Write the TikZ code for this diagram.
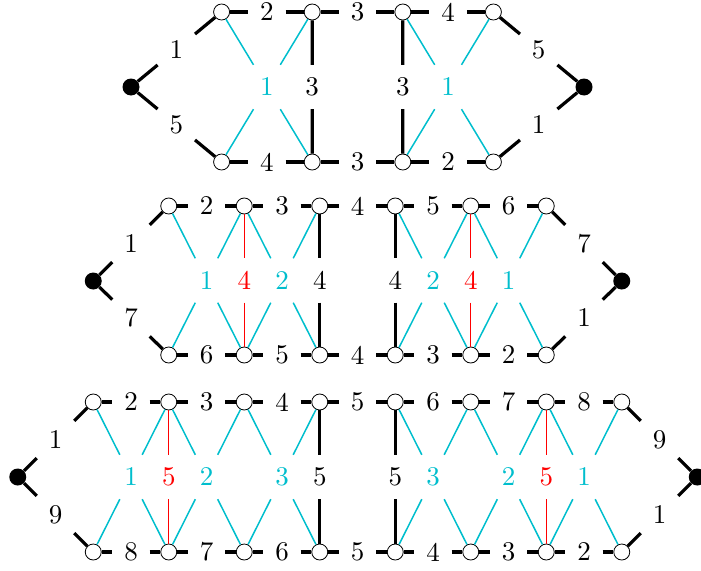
\documentclass[tikz,border=0pt]{standalone}
\usepackage{fontspec}
\setmainfont{lmroman10-regular}[Extension=.otf]
\usetikzlibrary{calc}
\definecolor{mycyan}{RGB}{0,190,205}
\tikzset{
  oc/.style={circle, draw, fill=white, minimum size=16pt, inner sep=0pt, line width=0.8pt},
  bd/.style={circle, fill=black, minimum size=17pt, inner sep=0pt},
  lab/.style={rectangle, minimum width=37pt, minimum height=44pt, inner sep=0pt, font=\fontsize{27}{32}\selectfont},
  clab/.style={lab, text=mycyan},
  rlab/.style={lab, text=red},
  bkline/.style={line width=3.2pt, black},
  cyline/.style={line width=1.5pt, mycyan},
  rdline/.style={line width=0.9pt, red},
}
\newcommand\crossX[6]{% row, a, b, name, text, style
  \node[#6] (#4) at ($(t#1-#2)!0.5!(b#1-#3)$) {#5};
  \draw[cyline] (t#1-#2) -- (#4) (#4) -- (b#1-#3) (t#1-#3) -- (#4) (#4) -- (b#1-#2);
}
\newcommand\vertX[6]{% row, a, name, text, labstyle, linestyle
  \node[#5] (#3) at ($(t#1-#2)!0.5!(b#1-#2)$) {#4};
  \draw[#6] (t#1-#2) -- (#3) (#3) -- (b#1-#2);
}
\begin{document}
\begin{tikzpicture}[x=1pt,y=-1pt]
\useasboundingbox (0,0) rectangle (701,570);
\def\C{357.5}
\def\U{75.5}
% ---------------- Row 1 ----------------
\foreach \i in {1,...,4}{
  \node[oc] (t1-\i) at ({\C+(\i-2.5)*1.2*\U},12) {};
  \node[oc] (b1-\i) at ({\C+(\i-2.5)*1.2*\U},162) {};
}
\node[bd] (l1) at ({\C-3*\U},87) {};
\node[bd] (r1) at ({\C+3*\U},87) {};
\foreach \i in {1,...,3}{
  \pgfmathtruncatemacro\j{\i+1}
  \pgfmathtruncatemacro\m{5-\i}
  \node[lab] (tl1-\i) at ($(t1-\i)!0.5!(t1-\j)$) {\j};
  \node[lab] (bl1-\i) at ($(b1-\i)!0.5!(b1-\j)$) {\m};
  \draw[bkline] (t1-\i) -- (tl1-\i) (tl1-\i) -- (t1-\j);
  \draw[bkline] (b1-\i) -- (bl1-\i) (bl1-\i) -- (b1-\j);
}
\node[lab] (dl1a) at ($(l1)!0.5!(t1-1)$) {1};
\node[lab] (dl1b) at ($(l1)!0.5!(b1-1)$) {5};
\node[lab] (dr1a) at ($(r1)!0.5!(t1-4)$) {5};
\node[lab] (dr1b) at ($(r1)!0.5!(b1-4)$) {1};
\draw[bkline] (l1) -- (dl1a) (dl1a) -- (t1-1) (l1) -- (dl1b) (dl1b) -- (b1-1);
\draw[bkline] (r1) -- (dr1a) (dr1a) -- (t1-4) (r1) -- (dr1b) (dr1b) -- (b1-4);
\crossX{1}{1}{2}{m1a}{1}{clab}
\vertX{1}{2}{m1b}{3}{lab}{bkline}
\vertX{1}{3}{m1c}{3}{lab}{bkline}
\crossX{1}{3}{4}{m1d}{1}{clab}
% ---------------- Row 2 ----------------
\foreach \i in {1,...,6}{
  \node[oc] (t2-\i) at ({\C+(\i-3.5)*\U},206) {};
  \node[oc] (b2-\i) at ({\C+(\i-3.5)*\U},355) {};
}
\node[bd] (l2) at ({\C-3.5*\U},281) {};
\node[bd] (r2) at ({\C+3.5*\U},281) {};
\foreach \i in {1,...,5}{
  \pgfmathtruncatemacro\j{\i+1}
  \pgfmathtruncatemacro\m{7-\i}
  \node[lab] (tl2-\i) at ($(t2-\i)!0.5!(t2-\j)$) {\j};
  \node[lab] (bl2-\i) at ($(b2-\i)!0.5!(b2-\j)$) {\m};
  \draw[bkline] (t2-\i) -- (tl2-\i) (tl2-\i) -- (t2-\j);
  \draw[bkline] (b2-\i) -- (bl2-\i) (bl2-\i) -- (b2-\j);
}
\node[lab] (dl2a) at ($(l2)!0.5!(t2-1)$) {1};
\node[lab] (dl2b) at ($(l2)!0.5!(b2-1)$) {7};
\node[lab] (dr2a) at ($(r2)!0.5!(t2-6)$) {7};
\node[lab] (dr2b) at ($(r2)!0.5!(b2-6)$) {1};
\draw[bkline] (l2) -- (dl2a) (dl2a) -- (t2-1) (l2) -- (dl2b) (dl2b) -- (b2-1);
\draw[bkline] (r2) -- (dr2a) (dr2a) -- (t2-6) (r2) -- (dr2b) (dr2b) -- (b2-6);
\crossX{2}{1}{2}{m2a}{1}{clab}
\vertX{2}{2}{m2b}{4}{rlab}{rdline}
\crossX{2}{2}{3}{m2c}{2}{clab}
\vertX{2}{3}{m2d}{4}{lab}{bkline}
\vertX{2}{4}{m2e}{4}{lab}{bkline}
\crossX{2}{4}{5}{m2f}{2}{clab}
\vertX{2}{5}{m2g}{4}{rlab}{rdline}
\crossX{2}{5}{6}{m2h}{1}{clab}
% ---------------- Row 3 ----------------
\foreach \i in {1,...,8}{
  \node[oc] (t3-\i) at ({\C+(\i-4.5)*\U},402) {};
  \node[oc] (b3-\i) at ({\C+(\i-4.5)*\U},552) {};
}
\node[bd] (l3) at ({\C-4.5*\U},477) {};
\node[bd] (r3) at ({\C+4.5*\U},477) {};
\foreach \i in {1,...,7}{
  \pgfmathtruncatemacro\j{\i+1}
  \pgfmathtruncatemacro\m{9-\i}
  \node[lab] (tl3-\i) at ($(t3-\i)!0.5!(t3-\j)$) {\j};
  \node[lab] (bl3-\i) at ($(b3-\i)!0.5!(b3-\j)$) {\m};
  \draw[bkline] (t3-\i) -- (tl3-\i) (tl3-\i) -- (t3-\j);
  \draw[bkline] (b3-\i) -- (bl3-\i) (bl3-\i) -- (b3-\j);
}
\node[lab] (dl3a) at ($(l3)!0.5!(t3-1)$) {1};
\node[lab] (dl3b) at ($(l3)!0.5!(b3-1)$) {9};
\node[lab] (dr3a) at ($(r3)!0.5!(t3-8)$) {9};
\node[lab] (dr3b) at ($(r3)!0.5!(b3-8)$) {1};
\draw[bkline] (l3) -- (dl3a) (dl3a) -- (t3-1) (l3) -- (dl3b) (dl3b) -- (b3-1);
\draw[bkline] (r3) -- (dr3a) (dr3a) -- (t3-8) (r3) -- (dr3b) (dr3b) -- (b3-8);
\crossX{3}{1}{2}{m3a}{1}{clab}
\vertX{3}{2}{m3b}{5}{rlab}{rdline}
\crossX{3}{2}{3}{m3c}{2}{clab}
\crossX{3}{3}{4}{m3d}{3}{clab}
\vertX{3}{4}{m3e}{5}{lab}{bkline}
\vertX{3}{5}{m3f}{5}{lab}{bkline}
\crossX{3}{5}{6}{m3g}{3}{clab}
\crossX{3}{6}{7}{m3h}{2}{clab}
\vertX{3}{7}{m3i}{5}{rlab}{rdline}
\crossX{3}{7}{8}{m3j}{1}{clab}
\end{tikzpicture}
\end{document}
